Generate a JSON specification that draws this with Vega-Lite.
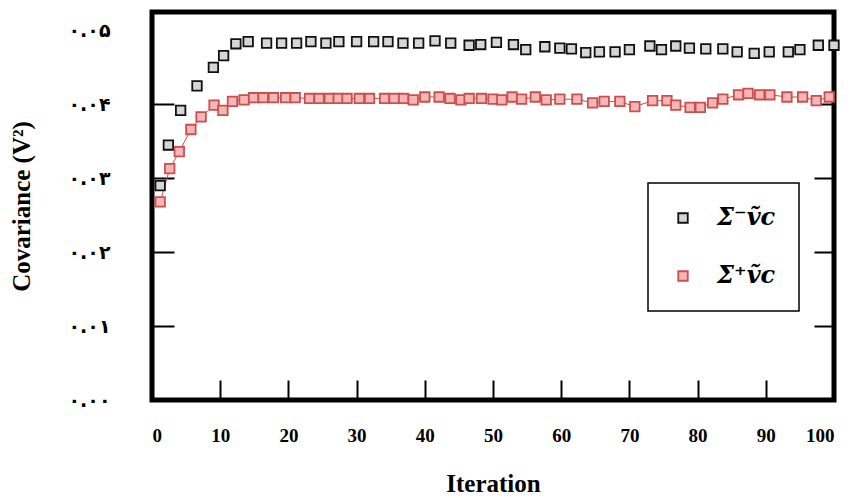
{
  "$schema": "https://vega.github.io/schema/vega-lite/v6.json",
  "width": 682,
  "height": 388,
  "autosize": {"type": "none"},
  "padding": {"left": 152, "top": 12, "right": 21, "bottom": 98},
  "background": "white",
  "config": {
    "view": {"stroke": "black", "strokeWidth": 5},
    "axis": {"grid": false, "domain": false, "tickColor": "black", "tickWidth": 2, "labelColor": "black", "titleColor": "black"},
    "legend": {
      "orient": "none", "legendX": 496, "legendY": 171,
      "strokeColor": "black", "strokeWidth": 1.5, "padding": 23, "rowPadding": 34,
      "symbolType": "square", "symbolSize": 90, "symbolStrokeWidth": 1.8,
      "labelFont": "DejaVu Serif", "labelFontSize": 24, "labelFontWeight": "bold", "labelFontStyle": "italic",
      "labelOffset": 22, "labelColor": "black"
    }
  },
  "datasets": {
    "cov": [
      {"it": 1.2, "cov": 0.0290, "series": "minus"},
      {"it": 2.4, "cov": 0.0345, "series": "minus"},
      {"it": 4.2, "cov": 0.0392, "series": "minus"},
      {"it": 6.6, "cov": 0.0425, "series": "minus"},
      {"it": 9.0, "cov": 0.0450, "series": "minus"},
      {"it": 10.5, "cov": 0.0466, "series": "minus"},
      {"it": 12.3, "cov": 0.0482, "series": "minus"},
      {"it": 14.1, "cov": 0.0485, "series": "minus"},
      {"it": 16.8, "cov": 0.0483, "series": "minus"},
      {"it": 19.0, "cov": 0.0483, "series": "minus"},
      {"it": 21.2, "cov": 0.0483, "series": "minus"},
      {"it": 23.3, "cov": 0.0485, "series": "minus"},
      {"it": 25.5, "cov": 0.0483, "series": "minus"},
      {"it": 27.4, "cov": 0.0485, "series": "minus"},
      {"it": 30.0, "cov": 0.0485, "series": "minus"},
      {"it": 32.5, "cov": 0.0485, "series": "minus"},
      {"it": 34.6, "cov": 0.0485, "series": "minus"},
      {"it": 36.8, "cov": 0.0483, "series": "minus"},
      {"it": 39.1, "cov": 0.0483, "series": "minus"},
      {"it": 41.5, "cov": 0.0486, "series": "minus"},
      {"it": 43.8, "cov": 0.0483, "series": "minus"},
      {"it": 46.5, "cov": 0.0480, "series": "minus"},
      {"it": 48.2, "cov": 0.0481, "series": "minus"},
      {"it": 50.5, "cov": 0.0484, "series": "minus"},
      {"it": 53.0, "cov": 0.0481, "series": "minus"},
      {"it": 54.8, "cov": 0.0474, "series": "minus"},
      {"it": 57.6, "cov": 0.0478, "series": "minus"},
      {"it": 59.8, "cov": 0.0476, "series": "minus"},
      {"it": 61.5, "cov": 0.0475, "series": "minus"},
      {"it": 63.6, "cov": 0.0470, "series": "minus"},
      {"it": 65.6, "cov": 0.0471, "series": "minus"},
      {"it": 67.9, "cov": 0.0471, "series": "minus"},
      {"it": 70.0, "cov": 0.0474, "series": "minus"},
      {"it": 73.0, "cov": 0.0479, "series": "minus"},
      {"it": 74.7, "cov": 0.0474, "series": "minus"},
      {"it": 76.8, "cov": 0.0479, "series": "minus"},
      {"it": 78.8, "cov": 0.0476, "series": "minus"},
      {"it": 81.2, "cov": 0.0475, "series": "minus"},
      {"it": 83.7, "cov": 0.0475, "series": "minus"},
      {"it": 85.8, "cov": 0.0471, "series": "minus"},
      {"it": 88.3, "cov": 0.0469, "series": "minus"},
      {"it": 90.5, "cov": 0.0471, "series": "minus"},
      {"it": 93.3, "cov": 0.0471, "series": "minus"},
      {"it": 95.0, "cov": 0.0474, "series": "minus"},
      {"it": 97.7, "cov": 0.0480, "series": "minus"},
      {"it": 100.0, "cov": 0.0480, "series": "minus"},
      {"it": 1.2, "cov": 0.0268, "series": "plus"},
      {"it": 2.6, "cov": 0.0313, "series": "plus"},
      {"it": 4.0, "cov": 0.0336, "series": "plus"},
      {"it": 5.7, "cov": 0.0366, "series": "plus"},
      {"it": 7.2, "cov": 0.0383, "series": "plus"},
      {"it": 9.1, "cov": 0.0399, "series": "plus"},
      {"it": 10.4, "cov": 0.0392, "series": "plus"},
      {"it": 11.8, "cov": 0.0404, "series": "plus"},
      {"it": 13.5, "cov": 0.0406, "series": "plus"},
      {"it": 14.9, "cov": 0.0409, "series": "plus"},
      {"it": 16.3, "cov": 0.0409, "series": "plus"},
      {"it": 17.8, "cov": 0.0409, "series": "plus"},
      {"it": 19.6, "cov": 0.0409, "series": "plus"},
      {"it": 21.0, "cov": 0.0409, "series": "plus"},
      {"it": 23.1, "cov": 0.0408, "series": "plus"},
      {"it": 24.5, "cov": 0.0408, "series": "plus"},
      {"it": 26.0, "cov": 0.0408, "series": "plus"},
      {"it": 27.3, "cov": 0.0408, "series": "plus"},
      {"it": 28.6, "cov": 0.0408, "series": "plus"},
      {"it": 30.4, "cov": 0.0408, "series": "plus"},
      {"it": 31.9, "cov": 0.0408, "series": "plus"},
      {"it": 34.1, "cov": 0.0408, "series": "plus"},
      {"it": 35.5, "cov": 0.0408, "series": "plus"},
      {"it": 36.9, "cov": 0.0408, "series": "plus"},
      {"it": 38.3, "cov": 0.0406, "series": "plus"},
      {"it": 40.0, "cov": 0.0410, "series": "plus"},
      {"it": 42.1, "cov": 0.0410, "series": "plus"},
      {"it": 43.7, "cov": 0.0408, "series": "plus"},
      {"it": 45.3, "cov": 0.0406, "series": "plus"},
      {"it": 46.5, "cov": 0.0408, "series": "plus"},
      {"it": 48.3, "cov": 0.0408, "series": "plus"},
      {"it": 50.0, "cov": 0.0407, "series": "plus"},
      {"it": 51.3, "cov": 0.0406, "series": "plus"},
      {"it": 52.8, "cov": 0.0410, "series": "plus"},
      {"it": 54.2, "cov": 0.0407, "series": "plus"},
      {"it": 56.2, "cov": 0.0410, "series": "plus"},
      {"it": 57.8, "cov": 0.0406, "series": "plus"},
      {"it": 59.8, "cov": 0.0407, "series": "plus"},
      {"it": 62.3, "cov": 0.0407, "series": "plus"},
      {"it": 64.6, "cov": 0.0402, "series": "plus"},
      {"it": 66.3, "cov": 0.0404, "series": "plus"},
      {"it": 68.6, "cov": 0.0404, "series": "plus"},
      {"it": 70.8, "cov": 0.0397, "series": "plus"},
      {"it": 73.4, "cov": 0.0405, "series": "plus"},
      {"it": 75.5, "cov": 0.0405, "series": "plus"},
      {"it": 76.8, "cov": 0.0399, "series": "plus"},
      {"it": 78.9, "cov": 0.0396, "series": "plus"},
      {"it": 80.4, "cov": 0.0396, "series": "plus"},
      {"it": 82.2, "cov": 0.0402, "series": "plus"},
      {"it": 83.7, "cov": 0.0407, "series": "plus"},
      {"it": 86.0, "cov": 0.0413, "series": "plus"},
      {"it": 87.4, "cov": 0.0415, "series": "plus"},
      {"it": 89.1, "cov": 0.0413, "series": "plus"},
      {"it": 90.6, "cov": 0.0413, "series": "plus"},
      {"it": 93.1, "cov": 0.0410, "series": "plus"},
      {"it": 95.4, "cov": 0.0410, "series": "plus"},
      {"it": 97.4, "cov": 0.0405, "series": "plus"},
      {"it": 99.3, "cov": 0.0410, "series": "plus"}
    ]
  },
  "data": {"name": "cov"},
  "resolve": {"axis": {"y": "independent"}},
  "layer": [
    {
      "transform": [{"filter": "datum.series === 'plus'"}],
      "mark": {"type": "line", "color": "#c0504d", "strokeWidth": 1},
      "encoding": {
        "x": {
          "field": "it", "type": "quantitative",
          "scale": {"domain": [0, 100], "nice": false},
          "axis": {
            "values": [0, 10, 20, 30, 40, 50, 60, 70, 80, 90, 100],
            "tickSize": -20, "labelPadding": 46,
            "labelFont": "Liberation Serif", "labelFontSize": 19, "labelFontWeight": "bold",
            "title": "Iteration", "titleFont": "Liberation Serif", "titleFontSize": 25, "titleFontWeight": "bold", "titlePadding": 26
          }
        },
        "y": {
          "field": "cov", "type": "quantitative",
          "scale": {"domain": [0, 0.0525], "nice": false, "zero": true},
          "axis": {
            "orient": "left",
            "values": [0, 0.01, 0.02, 0.03, 0.04, 0.05],
            "tickSize": -22, "labelPadding": 64,
            "tickOpacity": {"condition": {"test": "datum.value > 0.045", "value": 0}, "value": 1},
            "labelExpr": "datum.value < 0.005 ? '۰.۰۰' : datum.value < 0.015 ? '۰.۰۱' : datum.value < 0.025 ? '۰.۰۲' : datum.value < 0.035 ? '۰.۰۳' : datum.value < 0.045 ? '۰.۰۴' : '۰.۰۵'",
            "labelFont": "DejaVu Sans", "labelFontSize": 19, "labelFontWeight": "bold",
            "title": "Covariance (V²)", "titleFont": "Liberation Serif", "titleFontSize": 25, "titleFontWeight": "bold", "titlePadding": 33
          }
        }
      }
    },
    {
      "mark": {"type": "point", "shape": "square", "size": 90, "strokeWidth": 1.8, "opacity": 1},
      "encoding": {
        "x": {"field": "it", "type": "quantitative"},
        "y": {
          "field": "cov", "type": "quantitative",
          "axis": {"orient": "right", "values": [0.01, 0.02, 0.03, 0.04], "tickSize": -20, "labels": false, "title": null}
        },
        "fill": {
          "field": "series", "type": "nominal",
          "scale": {"domain": ["minus", "plus"], "range": ["#d6d6d6", "#f6b6b6"]},
          "legend": {"title": null, "labelExpr": "datum.label === 'minus' ? 'Σ⁻ṽc' : 'Σ⁺ṽc'"}
        },
        "stroke": {
          "field": "series", "type": "nominal",
          "scale": {"domain": ["minus", "plus"], "range": ["#111111", "#c8504e"]},
          "legend": {"title": null, "labelExpr": "datum.label === 'minus' ? 'Σ⁻ṽc' : 'Σ⁺ṽc'"}
        }
      }
    }
  ]
}
